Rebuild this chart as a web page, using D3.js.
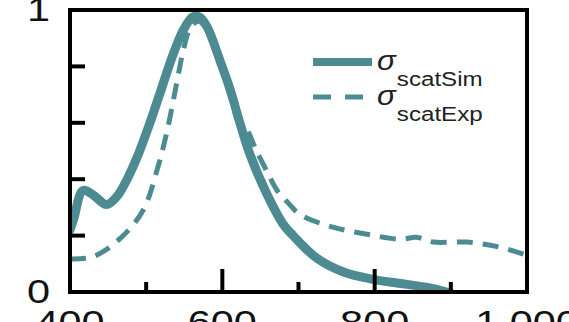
<!DOCTYPE html>
<html><head><meta charset="utf-8">
<script src="https://cdn.jsdelivr.net/npm/d3@7"></script>
<style>html,body{margin:0;padding:0;background:#fff;overflow:hidden}svg{display:block}</style>
</head><body><svg id="c" width="569" height="322"></svg>
<script>
// ---- data ----
const simWavelength = [400,405,417,430,448,462,475,490,505,520,535,549,561,570,580,597,610,623,636,658,680,693,724,760,798,840,877,900];
const simValue      = [0.22,0.26,0.36,0.345,0.31,0.34,0.40,0.49,0.60,0.72,0.84,0.93,0.975,0.975,0.94,0.82,0.72,0.60,0.49,0.35,0.24,0.20,0.12,0.07,0.045,0.028,0.012,-0.005];
const expWavelength = [400,430,466,496,514,527,540,549,557,568,580,597,612,622,630,645,660,672,685,702,745,790,833,855,877,921,964,1000];
const expValue      = [0.117,0.125,0.19,0.29,0.43,0.565,0.74,0.86,0.93,0.96,0.93,0.81,0.68,0.60,0.585,0.50,0.42,0.36,0.32,0.275,0.23,0.205,0.187,0.194,0.177,0.177,0.159,0.13];
const xTicks = [500,600,700,800,900];
const xMajor = [600,800];
const xLabels = [400,600,800,1000];
const yTicks = [0.2,0.4,0.6,0.8];
const yLabels = [0,1];
const legendNames = ["scatSim","scatExp"];

const svg = d3.select("#c");
const L=70,R=527,T=10,B=292;
const x = d3.scaleLinear().domain([400,1000]).range([L,R]);
const y = d3.scaleLinear().domain([0,1]).range([B,T]);
const col = "#4d8b92";
const SX = 1.22;

svg.append("clipPath").attr("id","clip").append("rect").attr("x",L).attr("y",T).attr("width",R-L).attr("height",B-T);
const line = d3.line().x(d=>x(d[0])).y(d=>y(d[1])).curve(d3.curveCatmullRom.alpha(0.5));
const g = svg.append("g").attr("clip-path","url(#clip)");
g.append("path").datum(expWavelength.map((w,i)=>[w,expValue[i]]))
 .attr("d",line).attr("fill","none").attr("stroke",col).attr("stroke-width",5).attr("stroke-dasharray","16,10");
g.append("path").datum(simWavelength.map((w,i)=>[w,simValue[i]]))
 .attr("d",line).attr("fill","none").attr("stroke",col).attr("stroke-width",9).attr("stroke-linecap","round");

// ticks
svg.selectAll(".xt").data(xTicks).join("line")
 .attr("x1",d=>x(d)).attr("x2",d=>x(d)).attr("y1",B).attr("y2",d=>B-(xMajor.includes(d)?23:10))
 .attr("stroke","#000").attr("stroke-width",4);
svg.selectAll(".yt").data(yTicks).join("line")
 .attr("x1",L).attr("x2",L+15).attr("y1",d=>y(d)).attr("y2",d=>y(d))
 .attr("stroke","#000").attr("stroke-width",4);
// frame
svg.append("rect").attr("x",L).attr("y",T).attr("width",R-L).attr("height",B-T)
 .attr("fill","none").attr("stroke","#000").attr("stroke-width",4);

const font = "'Liberation Sans', Arial, Helvetica, sans-serif";
const fmt = d3.format(",");
svg.selectAll(".yl").data(yLabels).join("text")
 .attr("transform",d=>`translate(50,${y(d)+10.5}) scale(${SX},1)`)
 .attr("text-anchor","end").attr("font-family",font).attr("font-size",34).attr("fill","#111")
 .text(d=>d);
svg.selectAll(".xl").data(xLabels).join("text")
 .attr("transform",d=>`translate(${x(d)},${B+42}) scale(${SX},1)`)
 .attr("text-anchor","middle").attr("font-family",font).attr("font-size",34).attr("fill","#111")
 .text(d=>fmt(d));

// legend
const lg = svg.append("g");
legendNames.forEach((n,i)=>{
  const yy = 62 + i*35;
  lg.append("line").attr("x1",313).attr("x2",372).attr("y1",yy).attr("y2",yy)
    .attr("stroke",col).attr("stroke-width",i===0?8:5)
    .attr("stroke-dasharray",i===0?null:"18,14");
  const t = lg.append("text").attr("transform",`translate(377,${yy+8}) scale(1.15,1)`)
    .attr("font-family",font).attr("fill","#222");
  t.append("tspan").attr("font-size",27).attr("font-style","italic").text("σ");
  t.append("tspan").attr("font-size",21).attr("dy",16).attr("dx",1).text(n);
});
</script></body></html>
